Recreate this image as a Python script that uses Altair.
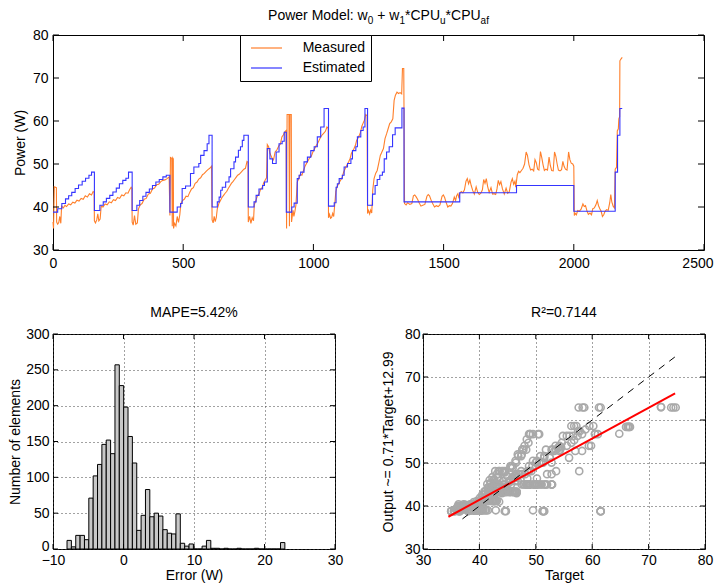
import altair as alt
import pandas as pd
import numpy as np

FONT = "Liberation Sans"
ORANGE = "#ff7f2a"
BLUE = "#3535ff"

# ---------------- top panel: estimated power (step levels: x start, level) ----------------
est_c1 = [(0, 38.8), (18, 39.6), (34, 40.8), (48, 41.9), (60, 42.6), (72, 43.4), (85, 44.3), (98, 45.1),
          (112, 46.0), (125, 46.7), (138, 47.4), (148, 48.1)]
est_c2 = [(159, 39.2), (180, 40.4), (193, 41.2), (205, 42.0), (218, 42.7), (230, 43.5), (243, 44.4),
          (255, 45.4), (268, 46.2), (280, 46.7), (290, 48.1)]
est_c3 = [(304, 39.2), (322, 40.4), (333, 41.5), (345, 42.5), (357, 43.4), (370, 44.2), (382, 45.0),
          (395, 45.8), (408, 46.4), (422, 47.0), (435, 47.4)]
est_c4 = [(449, 38.8), (477, 40.0), (490, 40.8), (496, 44.3), (509, 44.9), (528, 47.8), (541, 49.3),
          (560, 50.1), (567, 52.0), (580, 53.1), (592, 54.7), (599, 56.7)]
est_c5 = [(611, 40.0), (631, 41.2), (638, 42.3), (644, 43.9), (650, 44.6), (663, 45.8), (676, 47.0),
          (682, 48.9), (695, 50.5), (701, 51.6), (712, 53.2), (720, 54.0), (727, 55.5), (733, 56.7)]
est_c6 = [(750, 40.0), (772, 41.2), (780, 42.7), (791, 44.2), (805, 45.0), (812, 45.8), (823, 53.6),
          (833, 51.2), (843, 50.1), (857, 52.8), (868, 54.7), (880, 55.3), (888, 57.4)]
est_c7 = [(896, 38.8), (917, 40.0), (926, 40.9), (938, 46.6), (945, 47.4), (951, 48.1), (964, 50.5),
          (977, 51.6), (990, 53.1), (1003, 54.0), (1015, 56.3), (1028, 58.6), (1041, 62.9)]
est_c8 = [(1058, 40.2), (1080, 41.0), (1087, 44.6), (1092, 45.4), (1099, 46.6), (1111, 47.4), (1118, 49.3),
          (1131, 50.1), (1144, 51.2), (1150, 53.1), (1163, 54.0), (1169, 56.3), (1182, 57.8), (1191, 58.6),
          (1198, 62.9)]
est_c9 = [(1208, 40.4), (1227, 43.0), (1237, 45.0), (1245, 46.4), (1255, 47.4), (1265, 48.1), (1272, 51.2),
          (1281, 52.8), (1291, 54.0), (1304, 56.8), (1314, 58.4), (1340, 63.0)]
est_tail = [(1348, 41.2), (1562, 43.3), (1780, 45.0), (2000, 39.0), (2159, 48.1), (2168, 56.7),
            (2177, 62.9), (2186, 62.9)]

# ---------------- top panel: measured power (x, W) ----------------
meas_c1 = [(0, 36.5), (2, 35.0), (5, 44.7), (13, 44.5), (14, 36.5), (18, 36.0), (22, 36.4), (26, 37.8),
           (30, 36.2), (33, 40.2), (40, 39.8), (46, 40.4), (52, 40.1), (60, 40.7), (68, 40.5), (76, 41.1),
           (84, 40.9), (92, 41.6), (100, 41.4), (108, 42.0), (116, 41.8), (124, 42.6), (132, 42.3),
           (140, 43.1), (148, 42.8), (154, 43.6), (158, 43.4)]
meas_c2 = [(159, 36.8), (163, 36.3), (168, 37.0), (172, 38.4), (176, 36.8), (181, 37.2), (185, 40.2),
           (192, 40.0), (200, 40.7), (208, 40.5), (216, 41.2), (224, 41.0), (232, 41.7), (240, 41.5),
           (248, 42.2), (256, 42.0), (264, 42.8), (272, 42.6), (280, 43.3), (288, 43.2), (294, 44.0),
           (300, 44.6), (303, 44.3)]
meas_c3 = [(304, 36.5), (308, 35.8), (313, 38.0), (318, 36.0), (324, 36.3), (328, 39.5), (335, 40.5),
           (342, 40.8), (350, 41.8), (358, 42.0), (366, 43.0), (374, 43.2), (382, 44.2), (390, 44.4),
           (398, 45.2), (406, 45.3), (414, 45.9), (422, 46.2), (430, 46.3), (438, 46.6), (446, 47.0)]
meas_c4 = [(449, 38.0), (451, 51.5), (456, 51.3), (458, 35.5), (460, 51.4), (462, 51.2),
           (463, 35.0), (467, 36.2), (472, 35.6), (477, 37.8), (482, 36.4), (487, 38.2), (491, 40.8),
           (497, 41.5), (504, 41.8), (511, 42.5), (518, 42.4), (525, 43.4), (532, 44.2), (539, 44.5),
           (546, 45.5), (553, 45.8), (560, 46.5), (567, 46.8), (574, 47.5), (581, 47.8), (588, 48.3),
           (595, 48.7), (602, 49.0), (609, 49.5)]
meas_c5 = [(611, 37.0), (615, 36.3), (619, 37.8), (623, 36.6), (627, 37.5), (631, 39.6), (637, 40.8),
           (643, 41.5), (649, 42.2), (655, 42.7), (661, 43.2), (667, 43.6), (673, 44.3), (679, 44.9),
           (685, 45.5), (691, 45.9), (697, 46.4), (703, 46.9), (709, 47.4), (715, 47.6), (721, 48.0),
           (727, 48.4), (733, 48.8), (739, 49.0), (745, 50.6), (749, 50.4)]
meas_c6 = [(750, 36.5), (755, 37.8), (760, 36.2), (765, 37.5), (770, 36.8), (773, 40.5), (779, 41.5),
           (785, 42.6), (791, 43.0), (797, 44.1), (803, 44.5), (809, 45.6), (815, 46.3), (820, 46.8),
           (823, 54.5), (828, 54.0), (833, 52.5), (840, 51.5), (847, 51.0), (853, 52.8), (860, 53.3),
           (867, 54.2), (873, 54.6), (879, 56.3), (885, 56.8), (890, 57.5), (895, 57.8)]
meas_c7 = [(897, 35.0), (899, 61.5), (906, 61.5), (908, 35.5), (910, 61.5), (915, 61.5),
           (916, 36.5), (919, 38.0), (922, 39.2), (925, 37.8), (929, 39.0),
           (933, 40.5), (938, 45.8), (944, 46.6), (950, 47.6), (956, 47.4), (962, 48.5), (968, 49.5),
           (974, 50.2), (980, 50.8), (986, 51.5), (992, 51.8), (998, 52.8), (1004, 53.5), (1010, 54.2),
           (1016, 54.8), (1022, 55.5), (1028, 56.3), (1034, 56.8), (1040, 57.2), (1046, 57.6),
           (1052, 58.6), (1057, 58.3)]
meas_c8 = [(1058, 37.5), (1062, 38.3), (1066, 37.4), (1070, 37.6), (1074, 38.5), (1078, 37.8),
           (1082, 40.6), (1086, 43.5), (1091, 44.8), (1096, 45.3), (1101, 45.9), (1106, 46.4),
           (1111, 47.0), (1116, 48.1), (1121, 48.8), (1126, 49.4), (1131, 50.0), (1136, 50.6),
           (1141, 51.3), (1146, 52.5), (1151, 53.0), (1156, 53.6), (1161, 54.3), (1166, 55.5),
           (1171, 56.0), (1176, 56.6), (1181, 57.4), (1186, 58.8), (1191, 59.5), (1196, 60.2),
           (1201, 61.5), (1206, 61.2)]
meas_c9 = [(1208, 38.5), (1212, 39.2), (1216, 38.4), (1220, 39.3), (1224, 38.6), (1228, 44.0),
           (1233, 46.6), (1239, 47.8), (1245, 48.5), (1251, 50.2), (1257, 52.0), (1263, 52.8),
           (1269, 53.6), (1275, 55.9), (1281, 57.0), (1287, 58.2), (1293, 59.4), (1299, 59.8),
           (1305, 60.5), (1310, 64.8), (1315, 66.0), (1321, 66.7), (1327, 66.4), (1333, 66.6),
           (1339, 66.3), (1342, 72.2), (1347, 72.2)]
meas_s1 = [(1350, 40.8), (1356, 40.5), (1362, 41.0), (1370, 40.6), (1378, 40.8), (1384, 42.6),
           (1389, 42.8), (1394, 42.4), (1400, 41.8), (1406, 41.0), (1413, 40.2), (1420, 40.4),
           (1428, 40.6), (1436, 42.5), (1441, 42.9), (1446, 42.6), (1452, 41.6), (1458, 40.8),
           (1465, 40.0), (1472, 40.3), (1479, 40.1), (1486, 40.5), (1494, 42.5), (1499, 42.8),
           (1504, 42.2), (1509, 41.2), (1516, 40.0), (1522, 40.3), (1528, 40.2), (1534, 40.8),
           (1541, 42.3), (1546, 41.5), (1550, 42.6), (1555, 43.1), (1559, 42.0)]
meas_s2 = [(1562, 43.2), (1568, 43.6), (1574, 43.3), (1580, 44.0), (1586, 46.0), (1591, 46.6),
           (1596, 45.4), (1601, 46.3), (1606, 45.0), (1612, 43.8), (1618, 43.0), (1625, 44.7),
           (1631, 43.4), (1637, 42.9), (1643, 43.2), (1649, 44.0), (1654, 46.4), (1659, 45.5),
           (1664, 46.6), (1669, 44.8), (1675, 43.4), (1682, 44.5), (1688, 43.0), (1694, 43.1),
           (1700, 42.9), (1705, 44.2), (1710, 46.2), (1715, 45.2), (1720, 45.9), (1726, 44.2),
           (1733, 43.0), (1740, 44.4), (1746, 43.2), (1752, 43.5), (1759, 45.8), (1764, 46.6),
           (1769, 45.3), (1774, 46.0), (1777, 44.6)]
meas_s3 = [(1779, 45.5), (1783, 47.5), (1788, 48.3), (1793, 48.0), (1799, 48.5), (1805, 49.0),
           (1811, 50.0), (1817, 52.8), (1822, 52.0), (1828, 49.8), (1834, 48.6), (1840, 48.8),
           (1846, 48.4), (1851, 51.0), (1856, 50.3), (1861, 48.8), (1866, 48.6), (1872, 52.9),
           (1877, 51.5), (1882, 49.8), (1887, 48.5), (1893, 48.8), (1899, 48.6), (1905, 51.6),
           (1910, 49.6), (1915, 48.5), (1921, 48.4), (1926, 52.8), (1931, 51.8), (1936, 50.0),
           (1941, 48.6), (1947, 48.4), (1953, 48.7), (1958, 50.6), (1963, 49.4), (1968, 48.8),
           (1974, 48.6), (1980, 52.8), (1985, 51.0), (1990, 50.2), (1996, 50.0), (2000, 49.5)]
meas_s4 = [(2002, 38.0), (2006, 38.5), (2010, 38.2), (2015, 39.2), (2021, 39.0), (2028, 39.5),
           (2035, 40.7), (2040, 40.1), (2045, 40.3), (2051, 39.0), (2056, 38.3), (2062, 38.6),
           (2068, 38.2), (2073, 39.6), (2079, 39.8), (2085, 40.5), (2090, 41.5), (2095, 40.3),
           (2100, 39.6), (2105, 39.0), (2110, 37.8), (2115, 38.2), (2120, 39.0), (2126, 39.4),
           (2132, 39.2), (2138, 41.0), (2142, 42.9), (2146, 41.2), (2151, 40.2), (2156, 39.8)]
meas_end = [(2159, 48.8), (2164, 49.2), (2167, 57.7), (2171, 58.2), (2173, 60.5), (2176, 61.0),
            (2177, 74.0), (2181, 74.4), (2186, 74.8)]

top_x_ticks = [0, 500, 1000, 1500, 2000, 2500]
top_y_ticks = [30, 40, 50, 60, 70, 80]

# ---------------- bottom-left: error histogram (50 bins) ----------------
hist_min = -8.01
hist_width = 0.618
hist_counts = [12, 3, 19, 19, 13, 71, 102, 118, 146, 152,
               133, 257, 228, 198, 157, 120, 26, 47, 83, 45,
               50, 46, 27, 22, 21, 49, 8, 4, 7, 0,
               0, 4, 12, 1, 1, 0, 1, 0, 0, 1,
               0, 0, 0, 1, 0, 0, 0, 0, 0, 9]
hist_x_ticks = [-10, 0, 10, 20, 30]
hist_y_ticks = [0, 50, 100, 150, 200, 250, 300]

# ---------------- bottom-right: regression ----------------
fit_x = [34.5, 74.7]
fit_y = [37.5, 66.2]
ident_x = [37.0, 74.7]
ident_y = [37.0, 74.7]
sc_ticks = [30, 40, 50, 60, 70, 80]

# ---------------- frames ----------------
est_pts = est_c1 + est_c2 + est_c3 + est_c4 + est_c5 + est_c6 + est_c7 + est_c8 + est_c9 + est_tail
meas_pts = (meas_c1 + meas_c2 + meas_c3 + meas_c4 + meas_c5 + meas_c6 + meas_c7 + meas_c8 + meas_c9
            + meas_s1 + meas_s2 + meas_s3 + meas_s4 + meas_end)

est_df = pd.DataFrame(est_pts, columns=["t", "power"])
est_df["series"] = "Estimated"
meas_df = pd.DataFrame(meas_pts, columns=["t", "power"])
meas_df["series"] = "Measured"

# scatter: estimated (step value) versus measured at each measured sample
est_t = est_df["t"].to_numpy()
est_v = est_df["power"].to_numpy()
idx = np.searchsorted(est_t, meas_df["t"].to_numpy(), side="right") - 1
scatter_df = pd.DataFrame({"target": meas_df["power"].to_numpy(), "output": est_v[idx]})

lo = [hist_min + hist_width * k for k in range(len(hist_counts))]
hist_df = pd.DataFrame({"lo": lo, "hi": [v + hist_width for v in lo], "count": hist_counts,
                        "zero": [0] * len(hist_counts)})

TW, TH = 651, 215
BW, BH = 282, 215


def inward_ticks(xvals, yvals, xenc, yenc, W, H, L):
    """Inward tick marks on all four sides (MATLAB style)."""
    xt = pd.DataFrame({"v": xvals})
    yt = pd.DataFrame({"v": yvals})
    base_x = alt.Chart(xt).mark_rule(color="black", strokeWidth=1)
    base_y = alt.Chart(yt).mark_rule(color="black", strokeWidth=1)
    xb = base_x.encode(x=alt.X("v:Q", **xenc), y=alt.value(H), y2=alt.value(H - L))
    xtp = base_x.encode(x=alt.X("v:Q", **xenc), y=alt.value(0), y2=alt.value(L))
    yl = base_y.encode(y=alt.Y("v:Q", **yenc), x=alt.value(0), x2=alt.value(L))
    yr = base_y.encode(y=alt.Y("v:Q", **yenc), x=alt.value(W), x2=alt.value(W - L))
    return [xb, xtp, yl, yr]


# ---------------- top chart ----------------
last_tick = "datum.value == 2500"
top_xenc = dict(scale=alt.Scale(domain=[0, 2500], nice=False, zero=False),
                axis=alt.Axis(values=top_x_ticks, format="d", title=None, grid=False, labelPadding=6,
                              labelAlign={"condition": {"test": last_tick, "value": "right"}, "value": "center"},
                              labelOffset={"condition": {"test": last_tick, "value": 9}, "value": 0}))
top_yenc = dict(scale=alt.Scale(domain=[30, 80], nice=False, zero=False),
                axis=alt.Axis(values=top_y_ticks, title="Power (W)", grid=False, labelPadding=5,
                              titlePadding=5))
color = alt.Color(
    "series:N",
    scale=alt.Scale(domain=["Measured", "Estimated"], range=[ORANGE, BLUE]),
    legend=alt.Legend(
        title=None, orient="none", legendX=187, legendY=0, direction="vertical",
        fillColor="white", strokeColor="black", padding=6, rowPadding=6,
        labelFont=FONT, labelFontSize=14, labelColor="black", labelOffset=42.7,
        symbolType="M-0.4,0H5.8", symbolSize=100, symbolStrokeWidth=1.2,
    ),
)

meas_line = alt.Chart(meas_df).mark_line(strokeWidth=1.1).encode(
    x=alt.X("t:Q", **top_xenc), y=alt.Y("power:Q", **top_yenc), color=color,
)
est_line = alt.Chart(est_df).mark_line(strokeWidth=1.1, interpolate="step-after").encode(
    x=alt.X("t:Q", **top_xenc), y=alt.Y("power:Q", **top_yenc), color=color,
)

# title with subscripts: pieces, subscript flags and advance widths
title_parts = ["Power Model: w", "0", "+ w", "1", "*CPU", "u", "*CPU", "af"]
title_sub = [0, 1, 0, 1, 0, 1, 0, 1]
title_adv = [99.6, 9.5, 22.2, 5.6, 35.0, 5.6, 35.0, 8.3]
title_layers = []
xpos = TW / 2 - sum(title_adv) / 2
for part, sub, w in zip(title_parts, title_sub, title_adv):
    title_layers.append(
        alt.Chart(pd.DataFrame({"s": [part]})).mark_text(
            align="left", baseline="alphabetic", font=FONT, fontSize=10 if sub else 14, color="black"
        ).encode(text="s:N", x=alt.value(xpos), y=alt.value(-11.5 if sub else -15.0))
    )
    xpos += w

top = alt.layer(
    meas_line, est_line,
    *inward_ticks(top_x_ticks, top_y_ticks, top_xenc, top_yenc, TW, TH, 6),
    *title_layers,
).properties(width=TW, height=TH)

# ---------------- histogram ----------------
h_xenc = dict(scale=alt.Scale(domain=[-10, 30], nice=False, zero=False),
              axis=alt.Axis(values=hist_x_ticks, title="Error (W)", grid=True, labelPadding=4, titlePadding=1))
h_yenc = dict(scale=alt.Scale(domain=[0, 300], nice=False),
              axis=alt.Axis(values=hist_y_ticks, title="Number of elements", grid=True, labelPadding=4,
                            titlePadding=3,
                            labelOffset={"condition": {"test": "datum.value == 0", "value": -3}, "value": 0}))
bars = alt.Chart(hist_df).mark_rect(fill="#c8c8c8", stroke="black", strokeWidth=1).encode(
    x=alt.X("lo:Q", **h_xenc), x2="hi:Q",
    y=alt.Y("count:Q", **h_yenc), y2="zero:Q",
)
hist = alt.layer(
    bars, *inward_ticks(hist_x_ticks, hist_y_ticks, h_xenc, h_yenc, BW, BH, 5)
).properties(width=BW, height=BH, title="MAPE=5.42%")

# ---------------- scatter ----------------
s_xenc = dict(scale=alt.Scale(domain=[30, 80], nice=False, zero=False),
              axis=alt.Axis(values=sc_ticks, title="Target", grid=True, labelPadding=4, titlePadding=1))
s_yenc = dict(scale=alt.Scale(domain=[30, 80], nice=False, zero=False),
              axis=alt.Axis(values=sc_ticks, title="Output ~= 0.71*Target+12.99", grid=True,
                            labelPadding=3, titlePadding=9))
pts = alt.Chart(scatter_df).mark_point(shape="circle", filled=False, size=50, strokeWidth=1.6,
                                       color="#a9a9a9", opacity=1).encode(
    x=alt.X("target:Q", **s_xenc), y=alt.Y("output:Q", **s_yenc),
)
fit = alt.Chart(pd.DataFrame({"a": fit_x, "b": fit_y})).mark_line(color="#ff0000", strokeWidth=2).encode(
    x=alt.X("a:Q", **s_xenc), y=alt.Y("b:Q", **s_yenc))
ident = alt.Chart(pd.DataFrame({"a": ident_x, "b": ident_y})).mark_line(
    color="black", strokeWidth=1, strokeDash=[7, 6]).encode(
    x=alt.X("a:Q", **s_xenc), y=alt.Y("b:Q", **s_yenc))
scat = alt.layer(
    pts, fit, ident, *inward_ticks(sc_ticks, sc_ticks, s_xenc, s_yenc, BW, BH, 5)
).properties(width=BW, height=BH, title="R²=0.7144")

bottom = alt.hconcat(hist, scat, spacing=88, bounds="flush")
chart = alt.vconcat(top, bottom, spacing=84, bounds="flush").properties(
    padding={"left": 0, "top": 0, "right": 0, "bottom": 0}
).configure(font=FONT).configure_view(
    stroke="black", strokeWidth=1
).configure_axis(
    domain=False, ticks=False, labelFlush=False,
    labelFont=FONT, labelFontSize=14, labelColor="black",
    titleFont=FONT, titleFontSize=14, titleFontWeight="normal", titleColor="black",
    gridColor="#444444", gridDash=[1, 3], gridWidth=1, gridOpacity=1,
).configure_title(
    font=FONT, fontSize=14, fontWeight="normal", color="black", offset=7
)

chart.save("out.html", embed_options={"renderer": "svg", "actions": False})
